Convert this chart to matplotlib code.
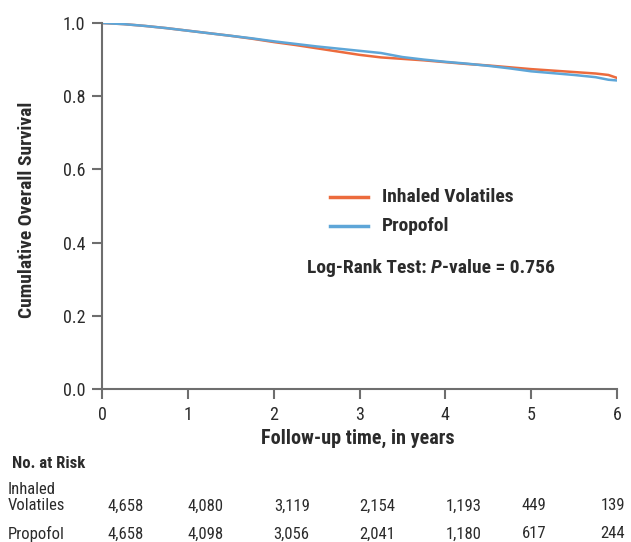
import numpy as np
import matplotlib
matplotlib.use('Agg')
import matplotlib.pyplot as plt

plt.rcParams['font.family'] = ['Roboto Condensed', 'DejaVu Sans']

# survival curves
years = [0, 0.25, 0.5, 0.75, 1, 1.25, 1.5, 1.75, 2, 2.25, 2.5, 2.75, 3,
         3.25, 3.5, 3.75, 4, 4.25, 4.5, 4.75, 5, 5.25, 5.5, 5.75, 5.9, 6]
inhaled = [1.0, 0.997, 0.992, 0.986, 0.979, 0.972, 0.965, 0.957, 0.948, 0.940,
           0.931, 0.922, 0.913, 0.906, 0.902, 0.898, 0.893, 0.888, 0.884, 0.879,
           0.874, 0.870, 0.866, 0.862, 0.858, 0.850]
propofol = [1.0, 0.997, 0.992, 0.986, 0.979, 0.972, 0.965, 0.958, 0.950, 0.943,
            0.936, 0.930, 0.924, 0.918, 0.907, 0.900, 0.894, 0.889, 0.883, 0.876,
            0.868, 0.863, 0.858, 0.852, 0.845, 0.843]

risk_inhaled = ['4,658', '4,080', '3,119', '2,154', '1,193', '449', '139']
risk_propofol = ['4,658', '4,098', '3,056', '2,041', '1,180', '617', '244']
risk_x = [0.28, 1.21, 2.21, 3.21, 4.21, 5.03, 5.95]

c_inh = '#EC6B3D'
c_pro = '#5EA6D8'
txt = '#2b2b2b'
axc = '#6e6e6e'

W, H = 631, 542
fig = plt.figure(figsize=(W / 100, H / 100), dpi=100)
ax = fig.add_axes([102 / W, 1 - 389 / H, (617 - 102) / W, (389 - 23) / H])

ax.plot(years, inhaled, color=c_inh, lw=1.8)
ax.plot(years, propofol, color=c_pro, lw=1.8)

ax.set_xlim(0, 6)
ax.set_ylim(0, 1.0)
ax.set_xticks(range(7))
ax.set_yticks([0, 0.2, 0.4, 0.6, 0.8, 1.0])
ax.set_yticklabels(['0.0', '0.2', '0.4', '0.6', '0.8', '1.0'])
for s in ['top', 'right']:
    ax.spines[s].set_visible(False)
for s in ['left', 'bottom']:
    ax.spines[s].set_color(axc)
    ax.spines[s].set_linewidth(1.5)
ax.tick_params(direction='out', length=7, width=1.5, color=axc,
               labelsize=13, labelcolor=txt, pad=5)

fig.text(27 / W, 1 - 210 / H, 'Cumulative Overall Survival', rotation=90,
         ha='center', va='center', fontsize=14, fontweight='bold', color=txt)
fig.text(358 / W, 1 - 438 / H, 'Follow-up time, in years',
         ha='center', va='center', fontsize=14.5, fontweight='bold', color=txt)

# legend
fig.add_artist(plt.Line2D([330 / W, 368 / W], [1 - 197 / H] * 2, color=c_inh, lw=2.5))
fig.add_artist(plt.Line2D([330 / W, 368 / W], [1 - 226 / H] * 2, color=c_pro, lw=2.5))
fig.text(382 / W, 1 - 197 / H, 'Inhaled Volatiles', va='center', fontsize=14,
         fontweight='bold', color=txt)
fig.text(382 / W, 1 - 226 / H, 'Propofol', va='center', fontsize=14,
         fontweight='bold', color=txt)
fig.text(307 / W, 1 - 268 / H, 'Log-Rank Test: ', va='center',
         fontsize=14, fontweight='bold', color=txt)
t = fig.texts[-1]
fig.canvas.draw()
bb = t.get_window_extent()
t2 = fig.text(bb.x1 / W, 1 - 268 / H, 'P', va='center', fontsize=14,
              fontweight='bold', fontstyle='italic', color=txt)
bb2 = t2.get_window_extent(fig.canvas.get_renderer())
fig.text(bb2.x1 / W, 1 - 268 / H, '-value = 0.756', va='center', fontsize=14,
         fontweight='bold', color=txt)

# risk table
fig.text(12 / W, 1 - 463 / H, 'No. at Risk', va='center', fontsize=12,
         fontweight='bold', color=txt)
fig.text(8 / W, 1 - 490 / H, 'Inhaled', va='center', fontsize=12, color=txt)
fig.text(8 / W, 1 - 506 / H, 'Volatiles', va='center', fontsize=12, color=txt)
fig.text(8 / W, 1 - 534 / H, 'Propofol', va='center', fontsize=12, color=txt)
for xv, a, b in zip(risk_x, risk_inhaled, risk_propofol):
    xf = (102 + xv * (617 - 102) / 6) / W
    fig.text(xf, 1 - 506 / H, a, ha='center', va='center', fontsize=12, color=txt)
    fig.text(xf, 1 - 534 / H, b, ha='center', va='center', fontsize=12, color=txt)

fig.savefig('out.png', dpi=100, facecolor='white')
